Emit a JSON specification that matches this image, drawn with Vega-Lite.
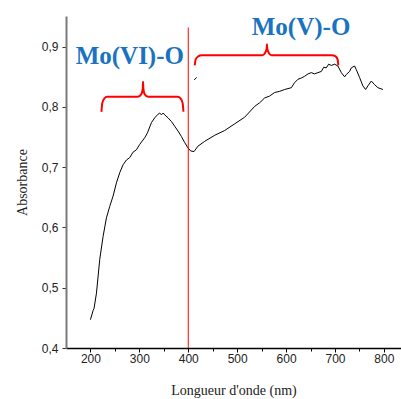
{
  "$schema": "https://vega.github.io/schema/vega-lite/v6.json",
  "width": 335,
  "height": 332,
  "autosize": "none",
  "padding": {"left": 66, "top": 16, "right": 0, "bottom": 51},
  "config": {"view": {"stroke": null}, "axis": {"grid": false}},
  "datasets": {
    "spectrum": [
      {"nm": 200, "abs": 0.447}, {"nm": 205.3, "abs": 0.462}, {"nm": 207.4, "abs": 0.466},
      {"nm": 212.3, "abs": 0.491}, {"nm": 219.0, "abs": 0.547}, {"nm": 225.8, "abs": 0.585},
      {"nm": 232.7, "abs": 0.616}, {"nm": 239.4, "abs": 0.635}, {"nm": 246.2, "abs": 0.652},
      {"nm": 253.1, "abs": 0.674}, {"nm": 259.9, "abs": 0.691}, {"nm": 266.6, "abs": 0.704},
      {"nm": 273.6, "abs": 0.712}, {"nm": 280.3, "abs": 0.716}, {"nm": 287.1, "abs": 0.725},
      {"nm": 294.0, "abs": 0.729}, {"nm": 300.8, "abs": 0.738}, {"nm": 311.0, "abs": 0.749},
      {"nm": 316.5, "abs": 0.757}, {"nm": 324.7, "abs": 0.774}, {"nm": 331.4, "abs": 0.782},
      {"nm": 338.2, "abs": 0.788}, {"nm": 341.6, "abs": 0.790}, {"nm": 345.1, "abs": 0.787},
      {"nm": 348.8, "abs": 0.790}, {"nm": 351.8, "abs": 0.787}, {"nm": 358.6, "abs": 0.782},
      {"nm": 365.5, "abs": 0.776}, {"nm": 372.3, "abs": 0.768}, {"nm": 379.1, "abs": 0.760},
      {"nm": 386.0, "abs": 0.751}, {"nm": 392.7, "abs": 0.741}, {"nm": 399.5, "abs": 0.732},
      {"nm": 405.0, "abs": 0.727}, {"nm": 411.7, "abs": 0.726}, {"nm": 419.9, "abs": 0.735},
      {"nm": 433.6, "abs": 0.743}, {"nm": 454.0, "abs": 0.753}, {"nm": 474.5, "abs": 0.761},
      {"nm": 494.9, "abs": 0.772}, {"nm": 515.3, "abs": 0.783}, {"nm": 535.8, "abs": 0.801},
      {"nm": 546.0, "abs": 0.807}, {"nm": 556.2, "abs": 0.815}, {"nm": 566.0, "abs": 0.818},
      {"nm": 576.6, "abs": 0.824}, {"nm": 587.0, "abs": 0.826}, {"nm": 597.1, "abs": 0.829},
      {"nm": 610.8, "abs": 0.832}, {"nm": 617.0, "abs": 0.840}, {"nm": 624.3, "abs": 0.846},
      {"nm": 631.0, "abs": 0.848}, {"nm": 638.0, "abs": 0.851}, {"nm": 645.0, "abs": 0.855},
      {"nm": 651.7, "abs": 0.857}, {"nm": 658.0, "abs": 0.855}, {"nm": 665.2, "abs": 0.857},
      {"nm": 672.1, "abs": 0.859}, {"nm": 677.0, "abs": 0.866}, {"nm": 682.3, "abs": 0.865},
      {"nm": 687.0, "abs": 0.871}, {"nm": 692.5, "abs": 0.869}, {"nm": 699.3, "abs": 0.871},
      {"nm": 706.0, "abs": 0.868}, {"nm": 713.0, "abs": 0.857}, {"nm": 719.7, "abs": 0.850},
      {"nm": 723.2, "abs": 0.854}, {"nm": 729.9, "abs": 0.859}, {"nm": 733.4, "abs": 0.865},
      {"nm": 740.1, "abs": 0.868}, {"nm": 743.6, "abs": 0.862}, {"nm": 750.3, "abs": 0.849},
      {"nm": 757.1, "abs": 0.835}, {"nm": 762.6, "abs": 0.829}, {"nm": 767.3, "abs": 0.835},
      {"nm": 774.3, "abs": 0.843}, {"nm": 781.0, "abs": 0.837}, {"nm": 787.8, "abs": 0.832},
      {"nm": 798.0, "abs": 0.829}
    ],
    "dash": [
      {"nm": 412.1, "abs": 0.845}, {"nm": 417.2, "abs": 0.849}
    ],
    "divider": [
      {"nm": 400, "y0": 0.4, "y1": 0.932}
    ],
    "braces": [
      {"b": "VI", "i": 1, "nm": 222.5, "abs": 0.792}, {"b": "VI", "i": 2, "nm": 224.1, "abs": 0.806},
      {"b": "VI", "i": 3, "nm": 228.2, "abs": 0.814}, {"b": "VI", "i": 4, "nm": 234.3, "abs": 0.817},
      {"b": "VI", "i": 5, "nm": 296.7, "abs": 0.817}, {"b": "VI", "i": 6, "nm": 303.8, "abs": 0.821},
      {"b": "VI", "i": 7, "nm": 307.0, "abs": 0.831}, {"b": "VI", "i": 8, "nm": 307.5, "abs": 0.842},
      {"b": "VI", "i": 9, "nm": 308.1, "abs": 0.831}, {"b": "VI", "i": 10, "nm": 311.0, "abs": 0.821},
      {"b": "VI", "i": 11, "nm": 318.1, "abs": 0.817}, {"b": "VI", "i": 12, "nm": 378.4, "abs": 0.817},
      {"b": "VI", "i": 13, "nm": 384.6, "abs": 0.814}, {"b": "VI", "i": 14, "nm": 388.6, "abs": 0.806},
      {"b": "VI", "i": 15, "nm": 390.1, "abs": 0.792},
      {"b": "V", "i": 1, "nm": 413.2, "abs": 0.869}, {"b": "V", "i": 2, "nm": 415.2, "abs": 0.879},
      {"b": "V", "i": 3, "nm": 420.3, "abs": 0.884}, {"b": "V", "i": 4, "nm": 427.5, "abs": 0.886},
      {"b": "V", "i": 5, "nm": 552.1, "abs": 0.886}, {"b": "V", "i": 6, "nm": 557.2, "abs": 0.890},
      {"b": "V", "i": 7, "nm": 560.3, "abs": 0.897}, {"b": "V", "i": 8, "nm": 560.9, "abs": 0.904},
      {"b": "V", "i": 9, "nm": 561.5, "abs": 0.897}, {"b": "V", "i": 10, "nm": 564.4, "abs": 0.890},
      {"b": "V", "i": 11, "nm": 569.5, "abs": 0.886}, {"b": "V", "i": 12, "nm": 693.2, "abs": 0.886},
      {"b": "V", "i": 13, "nm": 701.3, "abs": 0.884}, {"b": "V", "i": 14, "nm": 705.4, "abs": 0.879},
      {"b": "V", "i": 15, "nm": 706.8, "abs": 0.869}
    ],
    "labels": [
      {"nm": 280.5, "abs": 0.871, "label": "Mo(VI)-O"},
      {"nm": 630.6, "abs": 0.92, "label": "Mo(V)-O"}
    ]
  },
  "resolve": {"axis": {"x": "independent"}},
  "layer": [
    {
      "data": {"name": "spectrum"},
      "mark": {"type": "line", "color": "#000000", "strokeWidth": 1},
      "encoding": {
        "x": {
          "field": "nm", "type": "quantitative",
          "scale": {"domain": [150, 835], "nice": false, "zero": false},
          "axis": {
            "orient": "bottom",
            "title": "Longueur d'onde (nm)",
            "titleFont": "Liberation Serif", "titleFontSize": 14, "titleFontWeight": "normal",
            "titleColor": "#222222", "titlePadding": 19,
            "values": [200, 300, 400, 500, 600, 700, 800],
            "labelFont": "Liberation Sans", "labelFontSize": 12, "labelColor": "#222222",
            "labelPadding": 1, "labelFlush": false,
            "domainColor": "#000000", "domainWidth": 1.5,
            "tickColor": "#000000", "tickWidth": 1, "tickSize": 4
          }
        },
        "y": {
          "field": "abs", "type": "quantitative",
          "scale": {"domain": [0.4, 0.951], "nice": false, "zero": false},
          "axis": {
            "title": "Absorbance",
            "titleFont": "Liberation Serif", "titleFontSize": 14, "titleFontWeight": "normal",
            "titleColor": "#222222", "titlePadding": 12,
            "values": [0.4, 0.45, 0.5, 0.55, 0.6, 0.65, 0.7, 0.75, 0.8, 0.85, 0.9, 0.95],
            "labelExpr": "round(datum.value * 100) % 10 == 0 ? replace(format(datum.value, '.1f'), '.', ',') : ''",
            "labelFont": "Liberation Sans", "labelFontSize": 12, "labelColor": "#222222",
            "labelPadding": 4, "labelFlush": false, "labelOverlap": false,
            "domainColor": "#7a7a7a", "domainWidth": 2,
            "tickColor": "#333333", "tickWidth": 1, "tickSize": 4
          }
        }
      }
    },
    {
      "data": {"name": "dash"},
      "mark": {"type": "line", "color": "#000000", "strokeWidth": 1},
      "encoding": {
        "x": {
          "field": "nm", "type": "quantitative",
          "axis": {
            "orient": "bottom", "title": null, "labels": false, "domain": false,
            "values": [250, 350, 450, 550, 650, 750],
            "tickColor": "#000000", "tickWidth": 1, "tickSize": 3
          }
        },
        "y": {"field": "abs", "type": "quantitative"}
      }
    },
    {
      "data": {"name": "divider"},
      "mark": {"type": "rule", "color": "#ff0000", "strokeWidth": 1},
      "encoding": {
        "x": {"field": "nm", "type": "quantitative", "axis": null},
        "y": {"field": "y0", "type": "quantitative"},
        "y2": {"field": "y1"}
      }
    },
    {
      "data": {"name": "braces"},
      "mark": {"type": "line", "color": "#ff0000", "strokeWidth": 2, "interpolate": "monotone"},
      "encoding": {
        "x": {"field": "nm", "type": "quantitative", "axis": null},
        "y": {"field": "abs", "type": "quantitative"},
        "detail": {"field": "b"},
        "order": {"field": "i", "type": "quantitative"}
      }
    },
    {
      "data": {"name": "labels"},
      "mark": {"type": "text", "font": "Liberation Serif", "fontSize": 25, "fontWeight": "bold", "color": "#1a73c0", "align": "center", "baseline": "alphabetic"},
      "encoding": {
        "x": {"field": "nm", "type": "quantitative", "axis": null},
        "y": {"field": "abs", "type": "quantitative"},
        "text": {"field": "label"}
      }
    }
  ]
}
